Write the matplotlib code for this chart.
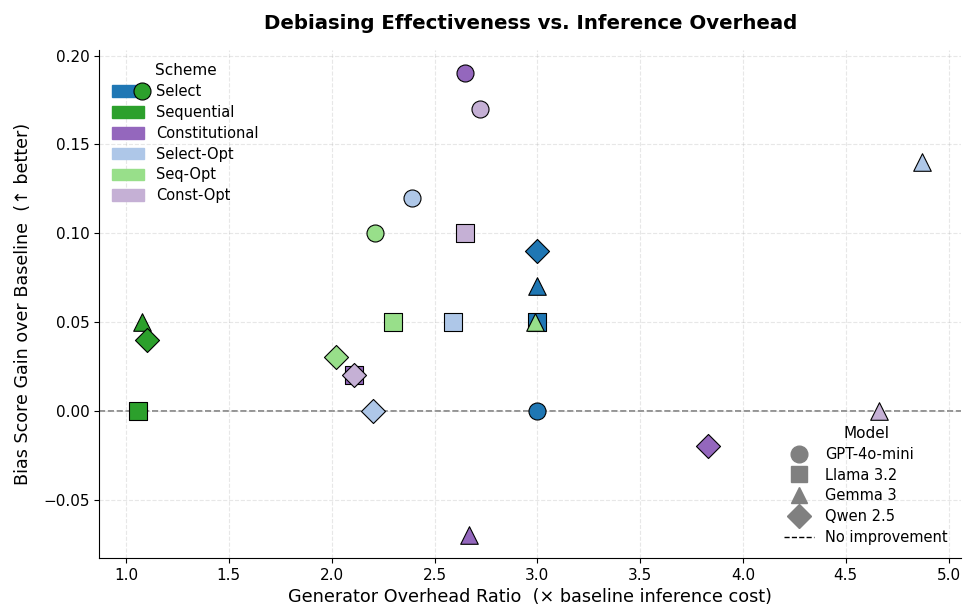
import matplotlib.pyplot as plt
from matplotlib.patches import Patch
from matplotlib.lines import Line2D

schemes = ["Select", "Sequential", "Constitutional", "Select-Opt", "Seq-Opt", "Const-Opt"]
scheme_colors = ["#1f77b4", "#2ca02c", "#9467bd", "#aec7e8", "#98df8a", "#c5b0d5"]
models = ["GPT-4o-mini", "Llama 3.2", "Gemma 3", "Qwen 2.5"]
model_markers = ["o", "s", "^", "D"]

# overhead ratio per scheme, order: GPT-4o-mini, Llama 3.2, Gemma 3, Qwen 2.5
overhead = {
    "Select":         [3.00, 3.00, 3.00, 3.00],
    "Sequential":     [1.08, 1.06, 1.08, 1.10],
    "Constitutional": [2.65, 2.11, 2.67, 3.83],
    "Select-Opt":     [2.39, 2.59, 4.87, 2.20],
    "Seq-Opt":        [2.21, 2.30, 2.99, 2.02],
    "Const-Opt":      [2.72, 2.65, 4.66, 2.11],
}
# bias score gain over baseline
gain = {
    "Select":         [0.00, 0.05, 0.07, 0.09],
    "Sequential":     [0.18, 0.00, 0.05, 0.04],
    "Constitutional": [0.19, 0.02, -0.07, -0.02],
    "Select-Opt":     [0.12, 0.05, 0.14, 0.00],
    "Seq-Opt":        [0.10, 0.05, 0.05, 0.03],
    "Const-Opt":      [0.17, 0.10, 0.00, 0.02],
}

fig, ax = plt.subplots(figsize=(9.63, 6.12), dpi=100)
fig.subplots_adjust(left=0.103, right=0.998, top=0.918, bottom=0.088)

for s, c in zip(schemes, scheme_colors):
    for i, m in enumerate(model_markers):
        ms = 150 if m != "^" else 160
        ax.scatter(overhead[s][i], gain[s][i], marker=m, s=ms, color=c,
                   edgecolor="black", linewidth=0.8, zorder=6)

ax.axhline(0, color="gray", linestyle="--", linewidth=1.2, zorder=1)
ax.grid(True, linestyle="--", alpha=0.3)
ax.spines["top"].set_visible(False)
ax.spines["right"].set_visible(False)
ax.tick_params(labelsize=11)

ax.set_xlabel("Generator Overhead Ratio  (× baseline inference cost)", fontsize=12.7)
ax.set_ylabel("Bias Score Gain over Baseline  (↑ better)", fontsize=12.6, labelpad=8)
ax.set_title("Debiasing Effectiveness vs. Inference Overhead", fontsize=14.2,
             fontweight="bold", pad=15)

scheme_handles = [Patch(color=c, label=s) for s, c in zip(schemes, scheme_colors)]
leg1 = ax.legend(handles=scheme_handles, title="Scheme", loc="upper left",
                 frameon=False, fontsize=10.5, title_fontsize=11,
                 handlelength=2.2, handleheight=0.85, labelspacing=0.4)
ax.add_artist(leg1)

model_handles = [Line2D([], [], marker=m, color="gray", linestyle="", markersize=12, label=n)
                 for m, n in zip(model_markers, models)]
model_handles.append(Line2D([], [], color="black", linestyle="--", linewidth=1, label="No improvement"))
ax.legend(handles=model_handles, title="Model", loc="lower right",
          frameon=False, fontsize=10.5, title_fontsize=11, labelspacing=0.4)

plt.savefig("out.png", dpi=100)
